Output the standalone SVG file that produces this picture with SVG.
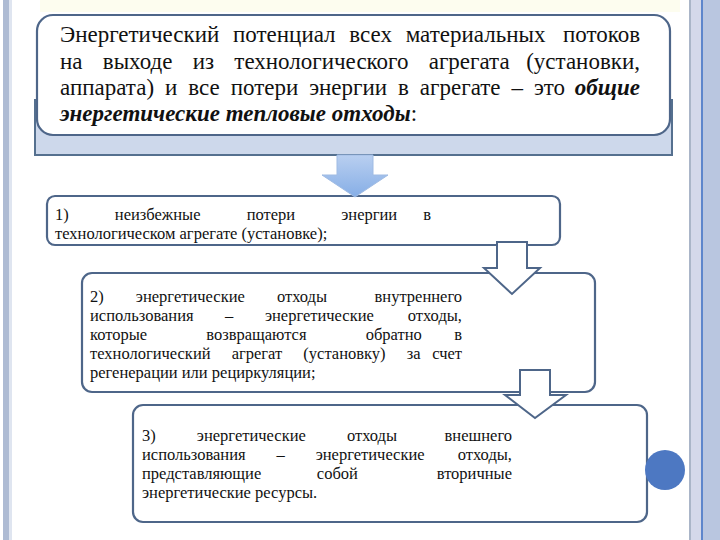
<svg xmlns="http://www.w3.org/2000/svg" width="720" height="540" viewBox="0 0 720 540">
<defs>
<linearGradient id="ag" x1="0" y1="0" x2="0" y2="1">
<stop offset="0" stop-color="#b9cff0"/>
<stop offset="1" stop-color="#86aee6"/>
</linearGradient>
<style>
.box{fill:#ffffff;stroke:#4e6689;stroke-width:2.2}
text{font-family:"Liberation Serif","DejaVu Serif","Times New Roman",serif;fill:#111}
.big{font-size:23px}
.sm{font-size:16.5px}
.bi{font-style:italic;font-weight:bold}
.outl{fill:#ffffff;stroke:#4e6689;stroke-width:2}
</style>
</defs>
<rect width="720" height="540" fill="#ffffff"/>
<rect x="40" y="0" width="640" height="12" fill="#fdfdef"/>
<g id="frame">
<rect x="3" y="0" width="6" height="540" fill="#aebbd3"/>
<rect x="9" y="0" width="3" height="540" fill="#dfe5f0"/>
<rect x="689" y="0" width="2" height="540" fill="#aab5c8"/>
<rect x="691" y="0" width="10" height="540" fill="#d4d8ea"/>
<rect x="701" y="0" width="2" height="540" fill="#5e86cc"/>
<rect x="703" y="0" width="17" height="540" fill="#b9c6e0"/>
</g>
<g id="header" font-family="'Liberation Serif','DejaVu Serif',serif">
<rect x="35" y="100" width="637" height="55" fill="#cdd8eb" stroke="#55708f" stroke-width="2"/>
<rect class="box" x="37" y="15" width="633" height="120" rx="16"/>
<text class="big" x="60" y="42" word-spacing="8">Энергетический потенциал всех материальных</text>
<text class="big" x="640" y="42" text-anchor="end">потоков</text>
<text class="big" x="60" y="69" word-spacing="14.5">на выходе из технологического агрегата</text>
<text class="big" x="640" y="69" text-anchor="end">(установки,</text>
<text class="big" x="60" y="95" word-spacing="5.2">аппарата) и все потери энергии в агрегате – это</text>
<text class="big bi" x="640" y="95" text-anchor="end">общие</text>
<text class="big" x="60" y="121"><tspan class="bi">энергетические тепловые отходы</tspan>:</text>
</g>
<g id="item1" font-family="'Liberation Serif','DejaVu Serif',serif">
<rect class="box" x="47" y="196" width="513" height="49" rx="8"/>
<text class="sm" x="55" y="220" word-spacing="42">1) неизбежные потери энергии</text>
<text class="sm" x="431" y="220" text-anchor="end">в</text>
<text class="sm" x="55" y="239">технологическом агрегате (установке);</text>
</g>
<g id="item2" font-family="'Liberation Serif','DejaVu Serif',serif">
<rect class="box" x="82" y="273" width="513" height="119" rx="10"/>
<text class="sm" x="90" y="302" word-spacing="28">2) энергетические отходы</text>
<text class="sm" x="462" y="302" text-anchor="end">внутреннего</text>
<text class="sm" x="90" y="321" word-spacing="27.4">использования – энергетические</text>
<text class="sm" x="462" y="321" text-anchor="end">отходы,</text>
<text class="sm" x="90" y="340" word-spacing="55">которые возвращаются обратно</text>
<text class="sm" x="462" y="340" text-anchor="end">в</text>
<text class="sm" x="90" y="359" word-spacing="17">технологический агрегат (установку) за</text>
<text class="sm" x="462" y="359" text-anchor="end">счет</text>
<text class="sm" x="90" y="378">регенерации или рециркуляции;</text>
</g>
<g id="item3" font-family="'Liberation Serif','DejaVu Serif',serif">
<rect class="box" x="133" y="405" width="514" height="117" rx="10"/>
<text class="sm" x="142" y="441" word-spacing="37">3) энергетические отходы</text>
<text class="sm" x="512" y="441" text-anchor="end">внешнего</text>
<text class="sm" x="142" y="460" word-spacing="26.8">использования – энергетические</text>
<text class="sm" x="512" y="460" text-anchor="end">отходы,</text>
<text class="sm" x="142" y="479" word-spacing="51.5">представляющие собой</text>
<text class="sm" x="512" y="479" text-anchor="end">вторичные</text>
<text class="sm" x="142" y="498">энергетические ресурсы.</text>
</g>
<g id="connectors">
<polygon points="337,155 373,155 373,175 388,175 355,197 322,175 337,175" fill="url(#ag)" stroke="#9fbbe3" stroke-width="1"/>
<polygon class="outl" points="497,242 527,242 527,268 540,268 512,294 484,268 497,268"/>
<polygon class="outl" points="520,370 550,370 550,395 566,395 535,418 505,395 520,395"/>
</g>
<circle id="dot" cx="665" cy="470" r="20" fill="#4d78c2"/>
</svg>
